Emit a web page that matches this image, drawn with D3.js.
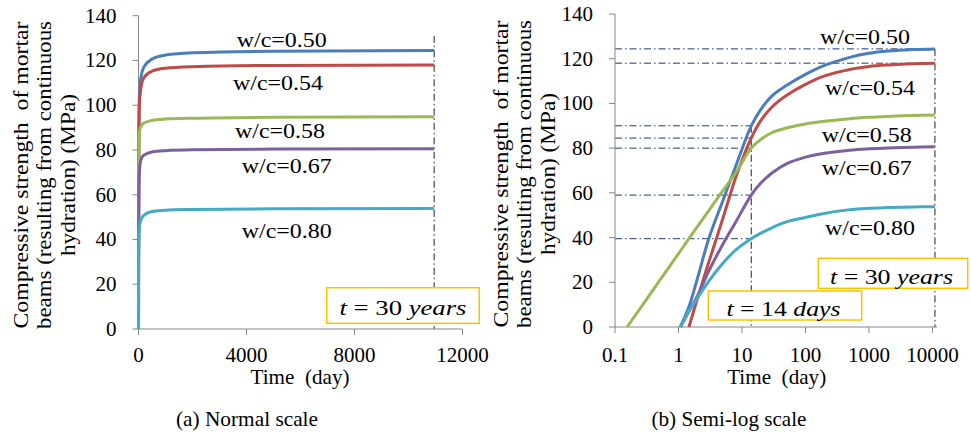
<!DOCTYPE html>
<html><head><meta charset="utf-8">
<script src="https://cdn.jsdelivr.net/npm/d3@7"></script>
<style>
body{margin:0;background:#fff}
svg{display:block}
svg text{font-family:"Liberation Serif","Tinos","DejaVu Serif",serif;fill:#000}
</style>
</head><body>
<svg id="c" width="971" height="434" font-family="Liberation Serif, Tinos, DejaVu Serif, serif"></svg>
<script>
// ---------- DATA ----------
const seriesNames = ["w/c=0.50", "w/c=0.54", "w/c=0.58", "w/c=0.67", "w/c=0.80"];
const days  = [0.155, 0.3, 0.5, 1.07, 1.46, 2, 3, 5, 8, 14, 20, 30, 50, 100, 200, 500, 1000, 2000, 5000, 10950];
const wc050 = [null, null, null, 0, 9, 22, 39.5, 56.5, 72, 90, 97.5, 103.5, 108, 113, 117, 120.6, 122.4, 123.4, 124.1, 124.4];
const wc054 = [null, null, null, null, 0, 13, 29, 48.5, 67, 84.5, 92.5, 98.5, 103.5, 108.5, 112.3, 115.2, 116.5, 117.2, 117.8, 118];
const wc058 = [0, 11.6, 20.6, 34, 39.5, 45, 52, 61, 69, 80, 84, 87, 89, 90.8, 92, 93.2, 93.8, 94.2, 94.6, 94.8];
const wc067 = [null, null, null, 0, 7, 14, 25, 37, 47, 59, 64.5, 69, 73, 76, 77.7, 79.1, 79.7, 80.1, 80.4, 80.6];
const wc080 = [null, null, null, 0, 7, 13, 20.5, 28.5, 34.5, 39.5, 42, 44.5, 47, 49, 50.8, 52.5, 53.1, 53.4, 53.7, 53.8];
const seriesValues = [wc050, wc054, wc058, wc067, wc080];

const yTicks = [0, 20, 40, 60, 80, 100, 120, 140];
const xTicksLinear = [0, 4000, 8000, 12000];
const xTicksLog = [0.1, 1, 10, 100, 1000, 10000];
const xTickLabelsLog = ["0.1", "1", "10", "100", "1000", "10000"];
const day14 = 14;          // t = 14 days
const day30y = 10950;      // t = 30 years

// ---------- STYLE / LAYOUT ----------
const FONT = "Liberation Serif, Tinos, DejaVu Serif, serif";
const colors = ["#4A7EBB", "#BE4B48", "#98B954", "#7D60A0", "#46AAC5"];
const axisColor = "#868686";
const refColor = "#1F3A70";
const boxColor = "#FFC000";
const dashDot = "7,3,1.5,3";

const svg = d3.select("#c");

function txt(g) {
  return g.append("text").attr("font-family", FONT).attr("fill", "#000");
}

function yAxis(g, y, x0) {
  g.append("line").attr("x1", x0).attr("x2", x0).attr("y1", y(0)).attr("y2", y(140))
    .attr("stroke", axisColor).attr("stroke-width", 1);
  yTicks.forEach(v => {
    g.append("line").attr("x1", x0 - 6).attr("x2", x0).attr("y1", y(v)).attr("y2", y(v))
      .attr("stroke", axisColor);
    txt(g).attr("x", x0 - 22).attr("y", y(v) + 7).attr("text-anchor", "end")
      .attr("font-size", 21).text(v);
  });
}

function yTitle(g, xs, cy) {
  const lines = ["Compressive strength  of mortar", "beams (resulting from continuous", "hydration) (MPa)"];
  const lens = [307, 308, 162];
  lines.forEach((t, i) => {
    txt(g).attr("transform", `translate(${xs[i]},${cy}) rotate(-90)`)
      .attr("text-anchor", "middle").attr("font-size", 20.5)
      .attr("textLength", lens[i]).attr("lengthAdjust", "spacingAndGlyphs")
      .style("white-space", "pre").text(t);
  });
}

function mathBox(g, bx, by, bw, bh, tx, ty, tlen, num, unit) {
  g.append("rect").attr("x", bx).attr("y", by).attr("width", bw).attr("height", bh)
    .attr("fill", "#fff").attr("stroke", boxColor).attr("stroke-width", 1.5);
  const t = txt(g).attr("x", tx).attr("y", ty).attr("text-anchor", "middle")
    .attr("font-size", 21).attr("textLength", tlen).attr("lengthAdjust", "spacingAndGlyphs")
    .style("white-space", "pre");
  t.append("tspan").attr("font-style", "italic").text("t");
  t.append("tspan").text(" = " + num + " ");
  t.append("tspan").attr("font-style", "italic").text(unit);
}

function seriesData(k) {
  return days.map((d, i) => ({ d: d, v: seriesValues[k][i] }));
}

// ================= (a) Normal scale =================
{
  const g = svg.append("g");
  const x = d3.scaleLinear().domain([0, 12000]).range([138.5, 462.5]);
  const y = d3.scaleLinear().domain([0, 140]).range([329, 15.7]);

  g.append("line").attr("x1", x(day30y)).attr("x2", x(day30y)).attr("y1", y(131)).attr("y2", y(0))
    .attr("stroke", "#222").attr("stroke-width", 1).attr("stroke-dasharray", dashDot);

  g.append("line").attr("x1", x(0)).attr("x2", x(12000)).attr("y1", y(0)).attr("y2", y(0))
    .attr("stroke", axisColor);
  xTicksLinear.forEach(v => {
    g.append("line").attr("x1", x(v)).attr("x2", x(v)).attr("y1", y(0)).attr("y2", y(0) + 6)
      .attr("stroke", axisColor);
    txt(g).attr("x", x(v)).attr("y", 362).attr("text-anchor", "middle")
      .attr("font-size", 21).text(v);
  });
  yAxis(g, y, 138.5);

  const line = d3.line().defined(d => d.v != null).x(d => x(d.d)).y(d => y(d.v)).curve(d3.curveMonotoneX);
  seriesValues.forEach((s, k) => {
    g.append("path").datum(seriesData(k)).attr("d", line).attr("fill", "none")
      .attr("stroke", colors[k]).attr("stroke-width", 3).attr("stroke-linejoin", "round");
  });

  const lab = [[281.7, 40], [278, 82.7], [280, 131], [286.7, 165.7], [286.7, 230.7]];
  seriesNames.forEach((n, k) => {
    txt(g).attr("x", lab[k][0]).attr("y", lab[k][1] + 7).attr("text-anchor", "middle")
      .attr("font-size", 21).attr("textLength", 90).attr("lengthAdjust", "spacingAndGlyphs").text(n);
  });

  mathBox(g, 326.7, 287.7, 152.6, 35.6, 403, 315, 127, "30", "years");

  txt(g).attr("x", 300).attr("y", 384).attr("text-anchor", "middle").attr("font-size", 21)
    .attr("textLength", 99).attr("lengthAdjust", "spacingAndGlyphs").style("white-space", "pre").text("Time  (day)");
  yTitle(g, [27.5, 51, 74.5], 175);
  txt(g).attr("x", 247).attr("y", 426).attr("text-anchor", "middle").attr("font-size", 21)
    .attr("textLength", 142).attr("lengthAdjust", "spacingAndGlyphs").text("(a) Normal scale");
}

// ================= (b) Semi-log scale =================
{
  const g = svg.append("g");
  const x = d3.scaleLog().domain([0.1, 11800]).range([615, 937]);
  const y = d3.scaleLinear().domain([0, 140]).range([327, 14]);

  const i14 = days.indexOf(day14);
  const i30 = days.indexOf(day30y);
  [wc050, wc054].forEach(s => {
    g.append("line").attr("x1", x(0.1)).attr("x2", x(day30y)).attr("y1", y(s[i30])).attr("y2", y(s[i30]))
      .attr("stroke", refColor).attr("stroke-width", 1).attr("stroke-dasharray", dashDot);
  });
  seriesValues.forEach(s => {
    g.append("line").attr("x1", x(0.1)).attr("x2", x(day14)).attr("y1", y(s[i14])).attr("y2", y(s[i14]))
      .attr("stroke", refColor).attr("stroke-width", 1).attr("stroke-dasharray", dashDot);
  });
  g.append("line").attr("x1", x(day14)).attr("x2", x(day14)).attr("y1", y(wc050[i14])).attr("y2", y(0))
    .attr("stroke", "#222").attr("stroke-dasharray", dashDot);
  g.append("line").attr("x1", x(day30y)).attr("x2", x(day30y)).attr("y1", y(wc050[i30])).attr("y2", y(0))
    .attr("stroke", "#222").attr("stroke-dasharray", dashDot);

  g.append("line").attr("x1", x(0.1)).attr("x2", x(11800)).attr("y1", y(0)).attr("y2", y(0))
    .attr("stroke", axisColor);
  xTicksLog.forEach((v, i) => {
    g.append("line").attr("x1", x(v)).attr("x2", x(v)).attr("y1", y(0)).attr("y2", y(0) + 6)
      .attr("stroke", axisColor);
    txt(g).attr("x", x(v)).attr("y", 362).attr("text-anchor", "middle")
      .attr("font-size", 21).text(xTickLabelsLog[i]);
  });
  yAxis(g, y, 615);

  const line = d3.line().defined(d => d.v != null).x(d => x(d.d)).y(d => y(d.v))
    .curve(d3.curveCatmullRom.alpha(0.5));
  seriesValues.forEach((s, k) => {
    g.append("path").datum(seriesData(k)).attr("d", line).attr("fill", "none")
      .attr("stroke", colors[k]).attr("stroke-width", 3).attr("stroke-linejoin", "round");
  });

  const lab = [[865, 37.3], [870, 88.3], [866.7, 135], [866.7, 168.3], [870, 228.3]];
  seriesNames.forEach((n, k) => {
    txt(g).attr("x", lab[k][0]).attr("y", lab[k][1] + 7).attr("text-anchor", "middle")
      .attr("font-size", 21).attr("textLength", 90).attr("lengthAdjust", "spacingAndGlyphs").text(n);
  });

  mathBox(g, 708.3, 291, 153.4, 29, 783.5, 316, 114, "14", "days");
  mathBox(g, 818.3, 258.3, 149.4, 30, 891.5, 284, 123, "30", "years");

  txt(g).attr("x", 776.7).attr("y", 384).attr("text-anchor", "middle").attr("font-size", 21)
    .attr("textLength", 99).attr("lengthAdjust", "spacingAndGlyphs").style("white-space", "pre").text("Time  (day)");
  yTitle(g, [507.5, 531, 554.5], 174);
  txt(g).attr("x", 729).attr("y", 426).attr("text-anchor", "middle").attr("font-size", 21)
    .attr("textLength", 155).attr("lengthAdjust", "spacingAndGlyphs").text("(b) Semi-log scale");
}
</script>
</body></html>
